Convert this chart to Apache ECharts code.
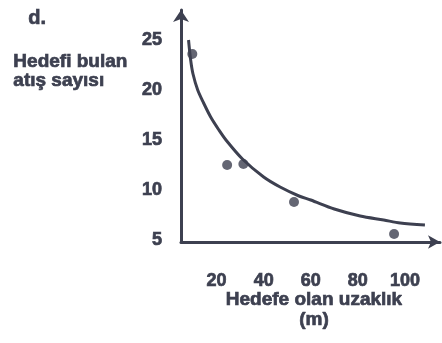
<!DOCTYPE html>
<html>
<head>
<meta charset="utf-8">
<script src="https://cdn.jsdelivr.net/npm/echarts@6/dist/echarts.min.js"></script>
<style>
  html, body { margin: 0; padding: 0; background: #fff; }
  #chart { width: 442px; height: 343px; }
</style>
</head>
<body>
<div id="chart"></div>
<script>
// Measured shots: distance to target (m) and number of hits
const distance = [9.7, 24.5, 31.4, 52.9, 95.4];
const hits = [23.6, 12.5, 12.6, 8.8, 5.6];

// Hand-drawn trend curve through the measurements
const curveX = [8.1, 9.0, 10.0, 12.0, 14.5, 17.5, 21, 24, 31, 40, 47, 55, 60, 70, 81, 91, 98, 108.5];
const curveY = [25.0, 23.0, 21.6, 20.0, 18.7, 17.3, 16.0, 15.0, 13.1, 11.3, 10.3, 9.4, 9.0, 8.1, 7.4, 7.0, 6.7, 6.5];

// Tick labels
const xTicks = [20, 40, 60, 80, 100];
const yTicks = [5, 10, 15, 20, 25];

const ink = '#3d4050';
const font = '"Liberation Sans", Arial, sans-serif';

// Heavy printed lettering: bold face with a thin outline in the same ink
const labelText = {
  color: ink,
  fontFamily: font,
  fontWeight: 'bold',
  fontSize: 18,
  textBorderColor: ink,
  textBorderWidth: 0.7
};

const chart = echarts.init(document.getElementById('chart'), null, { renderer: 'canvas' });

chart.setOption({
  backgroundColor: '#ffffff',
  animation: false,
  grid: { left: 181, right: 2, top: 10, bottom: 101, containLabel: false },
  xAxis: {
    type: 'value',
    min: 4.9,
    max: 114.9,
    splitLine: { show: false },
    axisTick: { show: false },
    axisLine: {
      show: true,
      symbol: ['none', 'arrow'],
      symbolSize: [10, 12],
      lineStyle: { color: ink, width: 3 }
    },
    axisLabel: Object.assign({ customValues: xTicks, margin: 30, lineHeight: 18 }, labelText)
  },
  yAxis: {
    type: 'value',
    min: 4.8,
    max: 28,
    splitLine: { show: false },
    axisTick: { show: false },
    axisLine: {
      show: true,
      symbol: ['none', 'arrow'],
      symbolSize: [12, 12],
      lineStyle: { color: ink, width: 3 }
    },
    axisLabel: Object.assign({ customValues: yTicks, margin: 19 }, labelText)
  },
  graphic: [
    {
      type: 'text', left: 28, top: 8,
      style: { text: 'd.', fill: ink, stroke: ink, lineWidth: 0.7, font: 'bold 20px ' + font }
    },
    {
      type: 'text', left: 13, top: 52,
      style: { text: 'Hedefi bulan\natış sayısı', fill: ink, stroke: ink, lineWidth: 0.7, font: 'bold 19px ' + font, lineHeight: 19 }
    },
    {
      type: 'text', x: 314, y: 290,
      style: { text: 'Hedefe olan uzaklık\n(m)', fill: ink, stroke: ink, lineWidth: 0.7, font: 'bold 19px ' + font, lineHeight: 20, textAlign: 'center' }
    }
  ],
  series: [
    {
      type: 'line',
      data: curveX.map((x, i) => [x, curveY[i]]),
      smooth: 0.3,
      showSymbol: false,
      lineStyle: { color: ink, width: 3 },
      z: 2
    },
    {
      type: 'scatter',
      data: distance.map((x, i) => [x, hits[i]]),
      symbol: 'circle',
      symbolSize: 10,
      itemStyle: { color: ink },
      z: 3
    }
  ]
});
</script>
</body>
</html>
